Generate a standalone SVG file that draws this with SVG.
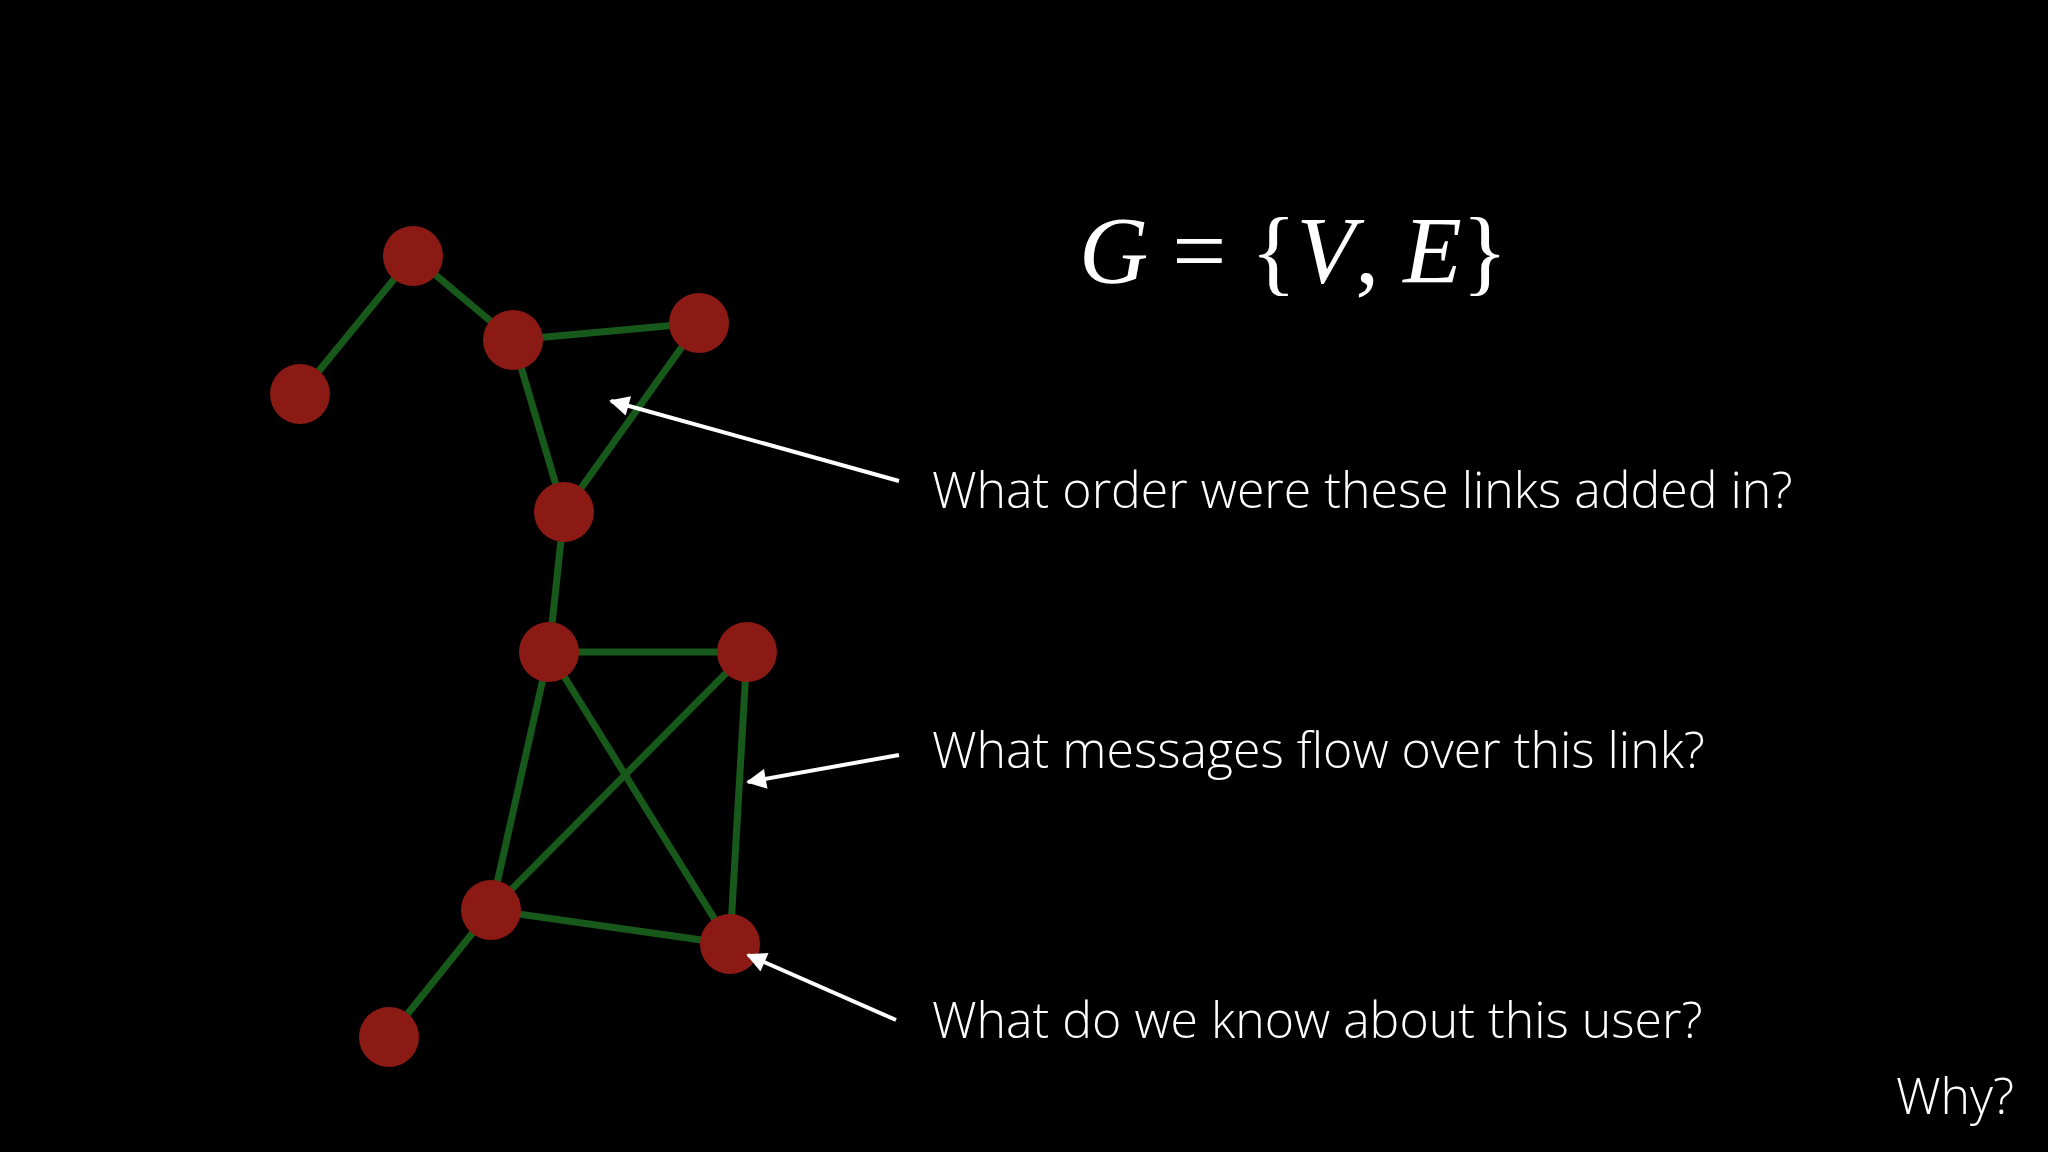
<svg xmlns="http://www.w3.org/2000/svg" width="2048" height="1152" viewBox="0 0 2048 1152">
<defs>
<style>
.e{stroke:#17591a;stroke-width:7;fill:none}
.n{fill:#8b1a14}
.a{stroke:#fff;stroke-width:4;fill:none}
.t{fill:#fff;font-family:"Open Sans","Liberation Sans",sans-serif;font-weight:300;font-size:50px}
.m{fill:#fff;font-family:"Liberation Serif",serif;font-size:96px}
</style>
<marker id="ah" markerWidth="8" markerHeight="8" refX="6" refY="4" orient="auto" markerUnits="userSpaceOnUse" viewBox="0 0 8 8"><path d="M0,0 L8,4 L0,8 Z" fill="#fff"/></marker>
<marker id="ah2" viewBox="0 0 10 10" refX="9" refY="5" markerWidth="24" markerHeight="20" orient="auto" markerUnits="userSpaceOnUse"><path d="M0,0 L10,5 L0,10 Z" fill="#fff"/></marker>
</defs>
<rect width="2048" height="1152" fill="#000"/>
<g id="edges">
<line class="e" x1="413" y1="256" x2="300" y2="394"/>
<line class="e" x1="413" y1="256" x2="513" y2="340"/>
<line class="e" x1="513" y1="340" x2="699" y2="323"/>
<line class="e" x1="513" y1="340" x2="564" y2="512"/>
<line class="e" x1="699" y1="323" x2="564" y2="512"/>
<line class="e" x1="564" y1="512" x2="549" y2="652"/>
<line class="e" x1="549" y1="652" x2="747" y2="652"/>
<line class="e" x1="549" y1="652" x2="491" y2="910"/>
<line class="e" x1="549" y1="652" x2="730" y2="944"/>
<line class="e" x1="747" y1="652" x2="491" y2="910"/>
<line class="e" x1="747" y1="652" x2="730" y2="944"/>
<line class="e" x1="491" y1="910" x2="730" y2="944"/>
<line class="e" x1="491" y1="910" x2="389" y2="1037"/>
</g>
<g id="nA"><circle class="n" cx="413" cy="256" r="30"/></g>
<g id="nB"><circle class="n" cx="300" cy="394" r="30"/></g>
<g id="nC"><circle class="n" cx="513" cy="340" r="30"/></g>
<g id="nD"><circle class="n" cx="699" cy="323" r="30"/></g>
<g id="nE"><circle class="n" cx="564" cy="512" r="30"/></g>
<g id="nF"><circle class="n" cx="549" cy="652" r="30"/></g>
<g id="nG"><circle class="n" cx="747" cy="652" r="30"/></g>
<g id="nH"><circle class="n" cx="491" cy="910" r="30"/></g>
<g id="nI"><circle class="n" cx="730" cy="944" r="30"/></g>
<g id="nJ"><circle class="n" cx="389" cy="1037" r="30"/></g>
<g id="arrows">
<line class="a" x1="899" y1="481" x2="611" y2="401" marker-end="url(#ah2)"/>
<line class="a" x1="899" y1="755" x2="748" y2="782" marker-end="url(#ah2)"/>
<line class="a" x1="896" y1="1020" x2="748" y2="955" marker-end="url(#ah2)"/>
</g>
<g id="labels">
<text class="m" x="1079" y="283"><tspan font-style="italic">G</tspan> = {<tspan font-style="italic">V</tspan>, <tspan font-style="italic">E</tspan>}</text>
<text class="t" x="932" y="508">What order were these links added in?</text>
<text class="t" x="932" y="768">What messages flow over this link?</text>
<text class="t" x="932" y="1038">What do we know about this user?</text>
<text class="t" x="2014" y="1114" text-anchor="end">Why?</text>
</g>
</svg>
